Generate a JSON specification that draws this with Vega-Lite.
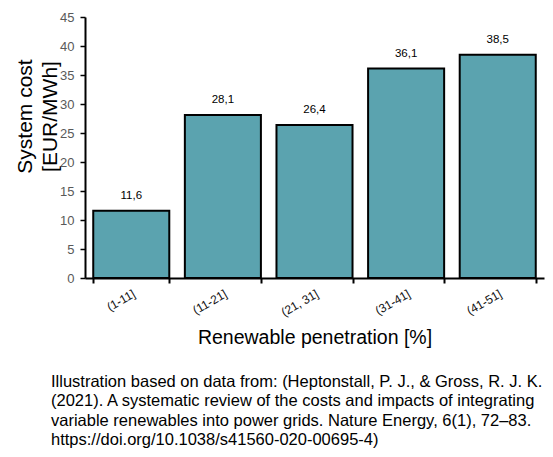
{
  "$schema": "https://vega.github.io/schema/vega-lite/v6.json",
  "width": 459,
  "height": 261,
  "autosize": {"type": "none"},
  "padding": {"left": 85, "top": 17, "right": 9, "bottom": 179},
  "background": "white",
  "data": {
    "values": [
      {"range": "(1-11]", "cost": 11.6, "label": "11,6"},
      {"range": "(11-21]", "cost": 28.1, "label": "28,1"},
      {"range": "(21, 31]", "cost": 26.4, "label": "26,4"},
      {"range": "(31-41]", "cost": 36.1, "label": "36,1"},
      {"range": "(41-51]", "cost": 38.5, "label": "38,5"}
    ]
  },
  "title": {
    "text": [
      "Illustration based on data from: (Heptonstall, P. J., & Gross, R. J. K.",
      "(2021). A systematic review of the costs and impacts of integrating",
      "variable renewables into power grids. Nature Energy, 6(1), 72–83.",
      "https://doi.org/10.1038/s41560-020-00695-4)"
    ],
    "orient": "bottom",
    "anchor": "start",
    "frame": "group",
    "dx": -34,
    "offset": 27,
    "font": "Liberation Sans",
    "fontSize": 16.5,
    "fontWeight": "normal",
    "lineHeight": 19.5,
    "color": "#000000"
  },
  "encoding": {
    "x": {
      "field": "range",
      "type": "nominal",
      "sort": null,
      "scale": {"paddingInner": 0.17, "paddingOuter": 0.09},
      "axis": {
        "title": "Renewable penetration [%]",
        "titleFont": "Liberation Sans",
        "titleFontSize": 19.5,
        "titleFontWeight": "normal",
        "titleColor": "#000000",
        "titleY": 50,
        "labelAngle": -30,
        "labelFont": "Liberation Sans",
        "labelFontSize": 12,
        "labelColor": "#111111",
        "labelPadding": 5,
        "tickBand": "extent",
        "tickSize": 5,
        "tickColor": "#000000",
        "tickWidth": 2,
        "domainColor": "#000000",
        "domainWidth": 2
      }
    },
    "y": {
      "field": "cost",
      "type": "quantitative",
      "scale": {"domain": [0, 45], "nice": false},
      "axis": {
        "values": [0, 5, 10, 15, 20, 25, 30, 35, 40, 45],
        "grid": false,
        "title": ["System cost", "[EUR/MWh]"],
        "titleFont": "Liberation Sans",
        "titleFontSize": 21,
        "titleFontWeight": "normal",
        "titleColor": "#000000",
        "titleLineHeight": 25,
        "titleY": 99,
        "titleX": -50,
        "titleAlign": "center",
        "titleBaseline": "bottom",
        "labelFont": "Liberation Sans",
        "labelFontSize": 13,
        "labelColor": "#595959",
        "labelPadding": 6,
        "tickSize": 5,
        "tickColor": "#000000",
        "tickWidth": 1.5,
        "domainColor": "#000000",
        "domainWidth": 2
      }
    }
  },
  "layer": [
    {
      "mark": {"type": "bar", "fill": "#5BA3AF", "stroke": "#000000", "strokeWidth": 2}
    },
    {
      "mark": {"type": "text", "baseline": "bottom", "dy": -10, "font": "Liberation Sans", "fontSize": 11.5, "color": "#000000"},
      "encoding": {"text": {"field": "label"}}
    }
  ],
  "config": {"view": {"stroke": null}}
}
